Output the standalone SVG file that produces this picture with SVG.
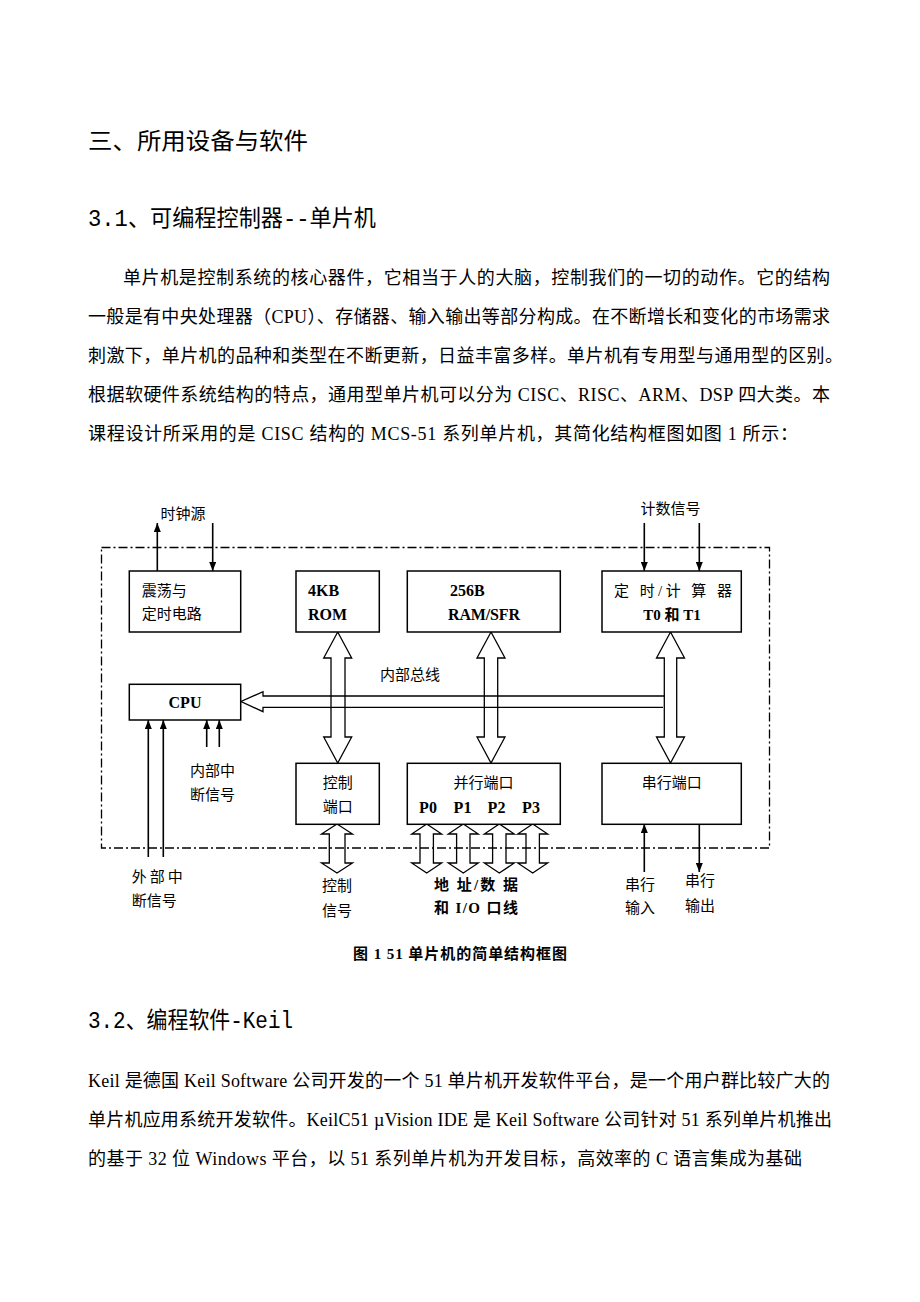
<svg xmlns="http://www.w3.org/2000/svg" width="920" height="1302" viewBox="0 0 920 1302">
<style>
.h{font-family:"Liberation Mono","Noto Sans CJK SC",monospace;font-size:23px;fill:#000}
.b{font-family:"Liberation Serif","Noto Sans CJK SC",serif;font-size:18px;fill:#000}
.l{font-family:"Liberation Serif","Noto Sans CJK SC",sans-serif;font-size:15px;fill:#000}
.bd{font-weight:bold}
.lt{font-size:16px}
.m{text-anchor:middle}
.box{fill:#fff;stroke:#000;stroke-width:1.5}
.ln{fill:none;stroke:#000;stroke-width:1.6}
.hol{fill:none;stroke:#000;stroke-width:1.3;stroke-linejoin:miter}
.frame{fill:none;stroke:#000;stroke-width:1.3;stroke-dasharray:9 3 2 3}
</style>
<defs>
<marker id="ah" markerUnits="userSpaceOnUse" viewBox="0 0 9 7" refX="9" refY="3.5" markerWidth="9" markerHeight="7" orient="auto">
<path d="M0,0 L9,3.5 L0,7 z" fill="#000"/>
</marker>
</defs>
<rect width="920" height="1302" fill="#fff"/>

<g id="text-body">
<text class="h" x="88" y="149" font-size="24" textLength="220" lengthAdjust="spacingAndGlyphs">三、所用设备与软件</text>
<text class="h" x="88" y="226" textLength="288" lengthAdjust="spacingAndGlyphs">3.1、可编程控制器--单片机</text>
<text class="b" x="123" y="283.5" textLength="707">单片机是控制系统的核心器件，它相当于人的大脑，控制我们的一切的动作。它的结构</text>
<text class="b" x="88" y="322.5" textLength="742">一般是有中央处理器（CPU）、存储器、输入输出等部分构成。在不断增长和变化的市场需求</text>
<text class="b" x="88" y="361.5" textLength="755">刺激下，单片机的品种和类型在不断更新，日益丰富多样。单片机有专用型与通用型的区别。</text>
<text class="b" x="88" y="400.5" textLength="742">根据软硬件系统结构的特点，通用型单片机可以分为 CISC、RISC、ARM、DSP 四大类。本</text>
<text class="b" x="88" y="439.5" textLength="710">课程设计所采用的是 CISC 结构的 MCS-51 系列单片机，其简化结构框图如图 1 所示：</text>
<text class="l bd" x="353" y="958.5" textLength="214">图 1 51 单片机的简单结构框图</text>
<text class="h" x="88" y="1028" textLength="205" lengthAdjust="spacingAndGlyphs">3.2、编程软件-Keil</text>
<text class="b" x="88" y="1086.5" textLength="742">Keil 是德国 Keil Software 公司开发的一个 51 单片机开发软件平台，是一个用户群比较广大的</text>
<text class="b" x="88" y="1125.5" textLength="744">单片机应用系统开发软件。KeilC51 µVision IDE 是 Keil Software 公司针对 51 系列单片机推出</text>
<text class="b" x="88" y="1164.5" textLength="714">的基于 32 位 Windows 平台，以 51 系列单片机为开发目标，高效率的 C 语言集成为基础</text>
</g>

<g id="frame">
<rect class="frame" x="101.5" y="547.5" width="668" height="300.5"/>
</g>

<g id="connectors">
<line class="ln" x1="157.3" y1="571" x2="157.3" y2="523" marker-end="url(#ah)"/>
<line class="ln" x1="212.7" y1="523" x2="212.7" y2="571" marker-end="url(#ah)"/>
<line class="ln" x1="644.3" y1="523" x2="644.3" y2="571" marker-end="url(#ah)"/>
<line class="ln" x1="699.3" y1="523" x2="699.3" y2="571" marker-end="url(#ah)"/>
<line class="ln" x1="148.3" y1="857" x2="148.3" y2="720" marker-end="url(#ah)"/>
<line class="ln" x1="163.3" y1="857" x2="163.3" y2="720" marker-end="url(#ah)"/>
<line class="ln" x1="206.7" y1="747" x2="206.7" y2="720" marker-end="url(#ah)"/>
<line class="ln" x1="219.3" y1="747" x2="219.3" y2="720" marker-end="url(#ah)"/>
<line class="ln" x1="644.3" y1="872" x2="644.3" y2="824" marker-end="url(#ah)"/>
<line class="ln" x1="699.3" y1="824" x2="699.3" y2="872" marker-end="url(#ah)"/>
<path class="hol" d="M665,696 H263 V691.7 L241,701.5 L263,711.7 V707.3 H663"/>
<path class="hol" d="M337.7,632 L351.7,658 L345,658 L345,737 L351.7,737 L337.7,763 L323.7,737 L331,737 L331,658 L323.7,658 Z"/>
<path class="hol" d="M491,632 L505,658 L497.7,658 L497.7,737 L505,737 L491,763 L477,737 L484.3,737 L484.3,658 L477,658 Z"/>
<path class="hol" d="M670.5,632 L684.5,658 L676.7,658 L676.7,737 L684.5,737 L670.5,763 L656.5,737 L664.3,737 L664.3,658 L656.5,658 Z"/>
<path class="hol" d="M337,824 L352.5,834 L345,834 L345,863 L352.5,863 L337,873 L321.5,863 L329.3,863 L329.3,834 L321.5,834 Z"/>
<path class="hol" d="M426.7,824 L441.7,834 L433.4,834 L433.4,863 L441.7,863 L426.7,873 L411.7,863 L420,863 L420,834 L411.7,834 Z"/>
<path class="hol" d="M463.3,824 L478.3,834 L470,834 L470,863 L478.3,863 L463.3,873 L448.3,863 L456.6,863 L456.6,834 L448.3,834 Z"/>
<path class="hol" d="M499.3,824 L514.3,834 L506,834 L506,863 L514.3,863 L499.3,873 L484.3,863 L492.6,863 L492.6,834 L484.3,834 Z"/>
<path class="hol" d="M532.7,824 L547.7,834 L539.4,834 L539.4,863 L547.7,863 L532.7,873 L517.7,863 L526,863 L526,834 L517.7,834 Z"/>
</g>

<g id="node-osc">
<rect class="box" x="129.3" y="571" width="111.4" height="61"/>
<text class="l" x="141.7" y="595.5">震荡与</text>
<text class="l" x="141.7" y="618.5">定时电路</text>
</g>
<g id="node-rom">
<rect class="box" x="296" y="571" width="83.3" height="61"/>
<text class="l lt bd" x="308" y="595.5">4KB</text>
<text class="l lt bd" x="308" y="619.5">ROM</text>
</g>
<g id="node-ram">
<rect class="box" x="407.3" y="571" width="153" height="61"/>
<text class="l lt bd" x="450" y="595.5">256B</text>
<text class="l lt bd" x="448" y="619.5" textLength="72">RAM/SFR</text>
</g>
<g id="node-timer">
<rect class="box" x="602" y="571" width="139.3" height="61"/>
<text class="l" x="614" y="595.5" textLength="118">定 时/计 算 器</text>
<text class="l bd" x="672" y="619.5" text-anchor="middle">T0 和 T1</text>
</g>
<g id="node-cpu">
<rect class="box" x="129.3" y="684.3" width="111.4" height="35.7"/>
<text class="l lt bd m" x="185" y="708">CPU</text>
</g>
<g id="node-ctrl">
<rect class="box" x="296" y="763.3" width="83.3" height="61"/>
<text class="l m" x="337.7" y="788">控制</text>
<text class="l m" x="337.7" y="811.5">端口</text>
</g>
<g id="node-par">
<rect class="box" x="407.3" y="763.3" width="153" height="61"/>
<text class="l m" x="483.5" y="788">并行端口</text>
<text class="l lt bd m" x="428" y="813">P0</text>
<text class="l lt bd m" x="462.5" y="813">P1</text>
<text class="l lt bd m" x="496.5" y="813">P2</text>
<text class="l lt bd m" x="531" y="813">P3</text>
</g>
<g id="node-ser">
<rect class="box" x="602" y="763.3" width="139.3" height="61"/>
<text class="l m" x="671.7" y="788">串行端口</text>
</g>

<g id="labels">
<text class="l m" x="183" y="518.5">时钟源</text>
<text class="l m" x="670.5" y="513.5">计数信号</text>
<text class="l" x="410" y="679.5" text-anchor="middle">内部总线</text>
<text class="l" x="190" y="775.5">内部中</text>
<text class="l" x="190" y="799.5">断信号</text>
<text class="l" x="131.7" y="881.5" textLength="51">外 部 中</text>
<text class="l" x="131.7" y="905.5">断信号</text>
<text class="l m" x="337" y="891">控制</text>
<text class="l m" x="337" y="915.5">信号</text>
<text class="l bd" x="434" y="889.5" textLength="84">地 址/数 据</text>
<text class="l bd" x="434" y="913" textLength="84">和 I/O 口线</text>
<text class="l m" x="640" y="889.5">串行</text>
<text class="l m" x="640" y="913">输入</text>
<text class="l m" x="700" y="886">串行</text>
<text class="l m" x="700" y="910.5">输出</text>
</g>
</svg>
